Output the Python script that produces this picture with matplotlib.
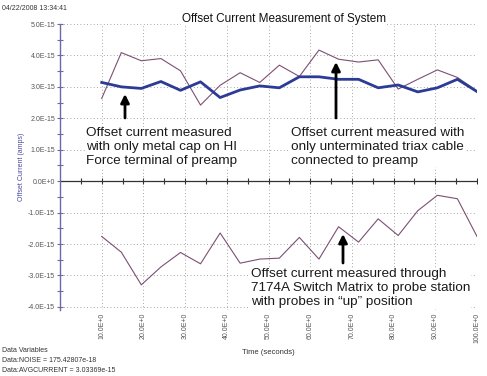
import matplotlib
matplotlib.use("Agg")
import matplotlib.pyplot as plt
from matplotlib.ticker import MultipleLocator, FixedLocator

plt.rcParams['font.family'] = ['Liberation Sans', 'DejaVu Sans']

time_s = [10.0, 14.7, 19.5, 24.2, 28.9, 33.7, 38.4, 43.2, 47.9, 52.6,
          57.4, 62.1, 66.8, 71.6, 76.3, 81.1, 85.8, 90.5, 95.3, 100.0]
# values in units of 1e-15 A
cap_only = [3.14, 3.00, 2.95, 3.17, 2.89, 3.16, 2.66, 2.90, 3.03, 2.97,
            3.32, 3.32, 3.24, 3.24, 2.97, 3.06, 2.84, 2.97, 3.24, 2.85]
triax_only = [2.63, 4.09, 3.83, 3.90, 3.51, 2.42, 3.05, 3.45, 3.14, 3.69,
              3.33, 4.17, 3.88, 3.79, 3.86, 2.93, 3.24, 3.54, 3.30, 2.87]
switch_matrix = [-1.76, -2.26, -3.30, -2.73, -2.27, -2.63, -1.65, -2.61, -2.48, -2.45,
                 -1.79, -2.48, -1.45, -1.94, -1.20, -1.73, -0.94, -0.45, -0.56, -1.76]

y_ticks = [5, 4, 3, 2, 1, 0, -1, -2, -3, -4]
y_labels = ["5.0E-15", "4.0E-15", "3.0E-15", "2.0E-15", "1.0E-15", "0.0E+0",
            "-1.0E-15", "-2.0E-15", "-3.0E-15", "-4.0E-15"]
x_ticks = [10, 20, 30, 40, 50, 60, 70, 80, 90, 100]
x_labels = ["10.0E+0", "20.0E+0", "30.0E+0", "40.0E+0", "50.0E+0",
            "60.0E+0", "70.0E+0", "80.0E+0", "90.0E+0", "100.0E+0"]

fig = plt.figure(figsize=(4.87, 3.76), dpi=100)
ax = fig.add_axes([60/487, 1-310/376, 417/487, (310-24)/376])
ax.set_xlim(0, 100)
ax.set_ylim(-4.1, 5.0)

axis_col = '#6a6aa6'
for s in ['top', 'right', 'bottom']:
    ax.spines[s].set_visible(False)
ax.spines['left'].set_color(axis_col)
ax.spines['left'].set_linewidth(1.0)

ax.yaxis.set_major_locator(FixedLocator(y_ticks))
ax.set_yticklabels(y_labels)
ax.yaxis.set_minor_locator(MultipleLocator(0.5))
ax.tick_params(axis='y', which='major', direction='inout', length=5, width=0.8,
               color=axis_col, labelsize=5, labelcolor='#555555', pad=1)
ax.tick_params(axis='y', which='minor', direction='inout', length=4, width=0.8,
               color=axis_col)

ax.xaxis.set_major_locator(FixedLocator(x_ticks))
ax.set_xticklabels(x_labels, rotation=90)
ax.tick_params(axis='x', which='major', length=0, labelsize=5,
               labelcolor='#555555', pad=2)

ax.grid(True, which='major', linestyle=(0, (1, 3)), color='#888888', linewidth=0.6)
ax.set_axisbelow(True)

# zero line with small ticks
ax.axhline(0, color='#333333', linewidth=0.9, zorder=2)
ax.plot(list(range(5, 101, 5)), [0]*20, linestyle='none', marker='|',
        markersize=4, color='#333333', markeredgewidth=0.8, zorder=2)

ax.plot(time_s, triax_only, color='#7d4f73', linewidth=0.8, zorder=3)
ax.plot(time_s, cap_only, color='#2b3b96', linewidth=2.0, zorder=4)
ax.plot(time_s, switch_matrix, color='#7d4f73', linewidth=0.8, zorder=3)

ax.set_ylabel("Offset Current (amps)", fontsize=5, color='#4a4aa0', labelpad=2)
fig.text(268/487, 1-353/376, "Time (seconds)", fontsize=5.5, color='#333333',
         ha='center', va='center')

fig.text(284/487, 1-19/376, "Offset Current Measurement of System", fontsize=8.5,
         ha='center', va='center', color='#111111',
         bbox=dict(facecolor='white', edgecolor='none', pad=1))
fig.text(2/487, 1-8/376, "04/22/2008 13:34:41", fontsize=5, ha='left', va='center',
         color='#333333')
fig.text(2/487, 1-351/376, "Data Variables", fontsize=5, ha='left', va='center', color='#333333')
fig.text(2/487, 1-361/376, "Data:NOISE = 175.42807e-18", fontsize=5, ha='left', va='center', color='#333333')
fig.text(2/487, 1-370/376, "Data:AVGCURRENT = 3.03369e-15", fontsize=5, ha='left', va='center', color='#333333')

ann_kw = dict(fontsize=9.7, color='#1a1a1a', ha='left', va='center', linespacing=1.2,
              bbox=dict(facecolor='white', edgecolor='none', pad=0.5), zorder=6)
fig.text(86/487, 1-147/376,
         "Offset current measured\nwith only metal cap on HI\nForce terminal of preamp", **ann_kw)
fig.text(291/487, 1-147/376,
         "Offset current measured with\nonly unterminated triax cable\nconnected to preamp", **ann_kw)
fig.text(251/487, 1-288/376,
         "Offset current measured through\n7174A Switch Matrix to probe station\nwith probes in \u201cup\u201d position", **ann_kw)

def arrow(x, y0, y1):
    fig.add_artist(matplotlib.patches.FancyArrowPatch(
        (x/487, 1-y0/376), (x/487, 1-y1/376), transform=fig.transFigure,
        arrowstyle='-|>,head_length=5,head_width=2.5', color='black', linewidth=2.0,
        shrinkA=0, shrinkB=0, zorder=7))

arrow(125, 118, 94)
arrow(336, 118, 62)
arrow(343, 263, 234)

fig.savefig("out.png", dpi=100)
